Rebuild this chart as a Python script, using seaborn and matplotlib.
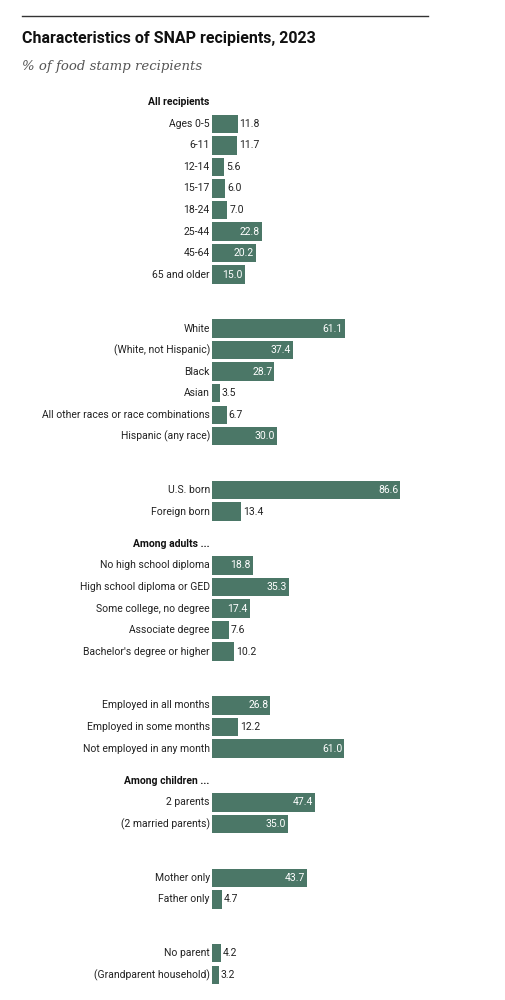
import pandas as pd
import matplotlib.pyplot as plt
import seaborn as sns

# ===========================
# DATA
# ===========================
GROUP_LABELS = [
    ["Ages 0-5", "6-11", "12-14", "15-17", "18-24", "25-44", "45-64", "65 and older"],
    ["White", "(White, not Hispanic)", "Black", "Asian",
     "All other races or race combinations", "Hispanic (any race)"],
    ["U.S. born", "Foreign born"],
    ["No high school diploma", "High school diploma or GED", "Some college, no degree",
     "Associate degree", "Bachelor's degree or higher"],
    ["Employed in all months", "Employed in some months", "Not employed in any month"],
    ["2 parents", "(2 married parents)"],
    ["Mother only", "Father only"],
    ["No parent", "(Grandparent household)"],
]
GROUP_VALUES = [
    [11.8, 11.7, 5.6, 6.0, 7.0, 22.8, 20.2, 15.0],
    [61.1, 37.4, 28.7, 3.5, 6.7, 30.0],
    [86.6, 13.4],
    [18.8, 35.3, 17.4, 7.6, 10.2],
    [26.8, 12.2, 61.0],
    [47.4, 35.0],
    [43.7, 4.7],
    [4.2, 3.2],
]
GROUP_HEADERS = ["All recipients", None, None, "Among adults ...", None,
                 "Among children ...", None, None]

# ===========================
# ROW POSITIONS (slot units)
# ===========================
rows, headers = [], []
pos = -1.0
for i, (labels, values, head) in enumerate(zip(GROUP_LABELS, GROUP_VALUES, GROUP_HEADERS)):
    if i > 0:
        pos += 1.5 if head else 2.5
    if head:
        headers.append((head, pos))
        pos += 1
    elif i == 0:
        pos += 1
    for j, (lab, val) in enumerate(zip(labels, values)):
        if j > 0:
            pos += 1
        rows.append({"label": lab, "value": val, "y": pos})
df = pd.DataFrame(rows)

# ===========================
# PLOT
# ===========================
BAR = "#4b7767"
plt.rcParams["font.family"] = ["Roboto", "DejaVu Sans"]
fig = plt.figure(figsize=(5.05, 10), dpi=100)
ax = fig.add_axes([212 / 505, 0.008, (430 - 212) / 505, 0.922])

sns.barplot(data=df, x="value", y="y", orient="y", native_scale=True,
            color=BAR, width=0.85, saturation=1, ax=ax)
ax.set_xlim(0, 100.4)
ax.set_ylim(40.3, -2.5)
ax.axis("off")

for _, r in df.iterrows():
    ax.text(-1, r["y"], r["label"], ha="right", va="center", fontsize=7.5, color="#222222")
    if r["value"] >= 14.5:
        ax.text(r["value"] - 0.9, r["y"], f"{r['value']:.1f}", ha="right", va="center",
                fontsize=7.5, color="white")
    else:
        ax.text(r["value"] + 0.9, r["y"], f"{r['value']:.1f}", ha="left", va="center",
                fontsize=7.5, color="#222222")
for head, y in headers:
    ax.text(-1, y, head, ha="right", va="center", fontsize=7.5, fontweight="bold", color="#111111")

fig.add_artist(plt.Line2D([22 / 505, 428 / 505], [1 - 16 / 1000] * 2, color="#333333", lw=1))
fig.text(22 / 505, 1 - 38 / 1000, "Characteristics of SNAP recipients, 2023",
         fontsize=11.5, fontweight="bold", va="center", color="#111111")
fig.text(22 / 505, 1 - 66 / 1000, "% of food stamp recipients", fontsize=9.5,
         fontstyle="italic", family=["DejaVu Serif"], va="center", color="#555555")

fig.savefig("out.png", dpi=100, facecolor="white")
